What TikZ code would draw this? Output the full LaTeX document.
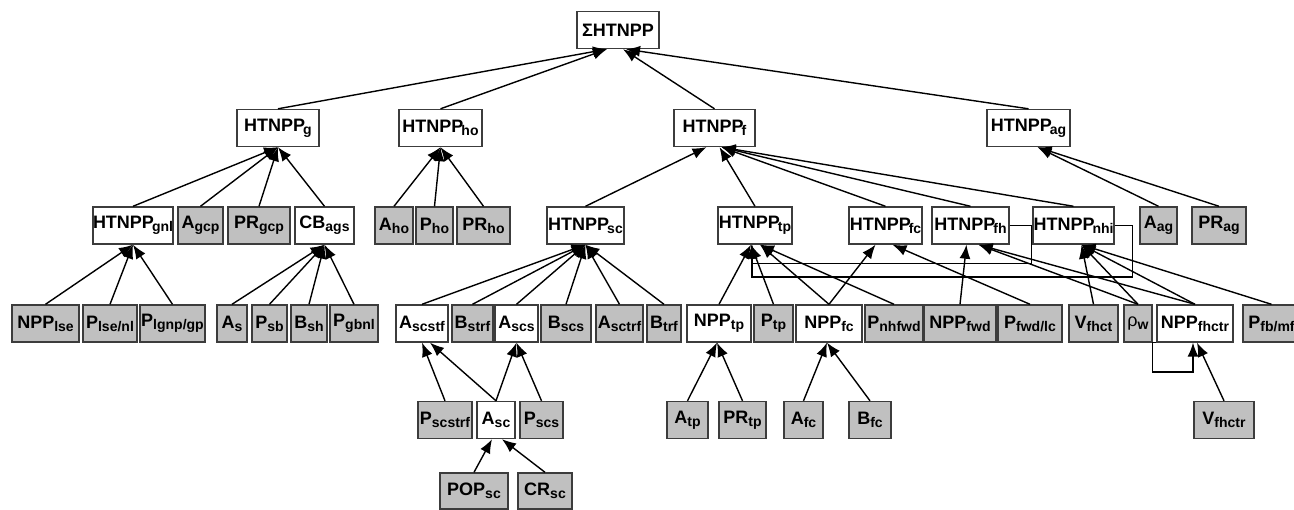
\documentclass[tikz,border=0pt]{standalone}
\usepackage{fontspec}
\setmainfont{Liberation Sans}
\usetikzlibrary{arrows.meta}
\definecolor{boxgray}{RGB}{192,192,192}
\definecolor{boxline}{RGB}{60,60,60}
\newcommand{\sbs}[1]{\raisebox{-3pt}{\fontsize{14}{14}\selectfont #1}}
\newcommand{\hsb}[1]{\kern-2pt\sbs{#1}}
\tikzset{
 box/.style={draw=boxline, line width=1.4pt, inner sep=0pt, minimum height=37pt, font=\fontsize{18}{19}\selectfont\bfseries, text=black},
 wbox/.style={box, fill=white},
 gbox/.style={box, fill=boxgray},
 bw/.style={minimum width=#1pt},
 arr/.style={-{Latex[length=14pt,width=11pt]}, line width=1.4pt, draw=black},
}
\begin{document}
\begin{tikzpicture}[x=1pt,y=-1pt]
\useasboundingbox (0,0) rectangle (1294,510);
\clip (0,0) rectangle (1294,510);
\fill[white] (0,0) rectangle (1294,510);
% top
\node[wbox,bw=82] (S) at (618,30) {ΣHTNPP};
% level 1
\node[wbox,bw=82] (g) at (278,128) {HTNPP\hsb{g}};
\node[wbox,bw=83] (ho) at (440.5,128) {HTNPP\hsb{ho}};
\node[wbox,bw=81] (f) at (714.5,128) {HTNPP\hsb{f}};
\node[wbox,bw=83] (ag) at (1028.5,128) {HTNPP\hsb{ag}};
% level 2
\node[wbox,bw=80] (gnl) at (133,225.5) {HTNPP\hsb{gnl}};
\node[gbox,bw=45] (Agcp) at (200.5,225.5) {A\sbs{gcp}};
\node[gbox,bw=62] (PRgcp) at (259,225.5) {PR\sbs{gcp}};
\node[wbox,bw=59] (CBags) at (324.5,225.5) {CB\sbs{ags}};
\node[gbox,bw=38] (Aho) at (394,225.5) {A\sbs{ho}};
\node[gbox,bw=37] (Pho) at (434.5,225.5) {P\sbs{ho}};
\node[gbox,bw=53] (PRho) at (483.5,225.5) {PR\sbs{ho}};
\node[wbox,bw=77] (sc) at (585.5,225.5) {HTNPP\hsb{sc}};
\node[wbox,bw=74] (tp) at (755,225.5) {HTNPP\hsb{tp}};
\node[wbox,bw=73] (fc) at (885.5,225.5) {HTNPP\hsb{fc}};
\node[wbox,bw=77] (fh) at (970.5,225.5) {HTNPP\hsb{fh}};
\node[wbox,bw=81] (nhi) at (1073.5,225.5) {HTNPP\hsb{nhi}};
\node[gbox,bw=37] (Aag) at (1158.5,225.5) {A\sbs{ag}};
\node[gbox,bw=54] (PRag) at (1219,225.5) {PR\sbs{ag}};
% level 3
\node[gbox,bw=67] (NPPlse) at (45.5,323.5) {NPP\sbs{lse}};
\node[gbox,bw=54] (Plsenl) at (110,323.5) {P\sbs{lse/nl}};
\node[gbox,bw=65] (Plgnp) at (172.5,323.5) {P\sbs{lgnp/gp}};
\node[gbox,bw=30] (As) at (232,323.5) {A\sbs{s}};
\node[gbox,bw=35] (Psb) at (269.5,323.5) {P\sbs{sb}};
\node[gbox,bw=36] (Bsh) at (309,323.5) {B\sbs{sh}};
\node[gbox,bw=48] (Pgbnl) at (354,323.5) {P\sbs{gbnl}};
\node[wbox,bw=52] (Ascstf) at (422,323.5) {A\sbs{scstf}};
\node[gbox,bw=41] (Bstrf) at (472.5,323.5) {B\sbs{strf}};
\node[wbox,bw=43] (Ascs) at (516.5,323.5) {A\sbs{scs}};
\node[gbox,bw=50] (Bscs) at (566,323.5) {B\sbs{scs}};
\node[gbox,bw=47] (Asctrf) at (619.5,323.5) {A\sbs{sctrf}};
\node[gbox,bw=34] (Btrf) at (664,323.5) {B\sbs{trf}};
\node[wbox,bw=64] (NPPtp) at (719,323.5) {NPP\sbs{tp}};
\node[gbox,bw=39] (Ptp) at (773.5,323.5) {P\sbs{tp}};
\node[wbox,bw=66] (NPPfc) at (829,323.5) {NPP\sbs{fc}};
\node[gbox,bw=58] (Pnhfwd) at (894,323.5) {P\sbs{nhfwd}};
\node[gbox,bw=72] (NPPfwd) at (960,323.5) {NPP\sbs{fwd}};
\node[gbox,bw=64] (Pfwdlc) at (1030,323.5) {P\sbs{fwd/lc}};
\node[gbox,bw=49] (Vfhct) at (1093.5,323.5) {V\sbs{fhct}};
\node[gbox,bw=28] (rhow) at (1138,323.5) {{\mdseries ρ}\sbs{w}};
\node[wbox,bw=76] (NPPfhctr) at (1195,323.5) {NPP\sbs{fhctr}};
\node[gbox,bw=57] (Pfbmf) at (1271.5,323.5) {P\sbs{fb/mf}};
% level 4
\node[gbox,bw=54] (Pscstrf) at (445,420) {P\sbs{scstrf}};
\node[wbox,bw=38] (Asc) at (496,420) {A\sbs{sc}};
\node[gbox,bw=43] (Pscs) at (541.5,420) {P\sbs{scs}};
\node[gbox,bw=41] (Atp) at (687.5,420) {A\sbs{tp}};
\node[gbox,bw=47] (PRtp) at (742.5,420) {PR\sbs{tp}};
\node[gbox,bw=39] (Afc) at (803.5,420) {A\sbs{fc}};
\node[gbox,bw=42] (Bfc) at (870,420) {B\sbs{fc}};
\node[gbox,bw=60] (Vfhctr) at (1224,420) {V\sbs{fhctr}};
% level 5
\node[gbox,bw=68,minimum height=36pt] (POPsc) at (474,491) {POP\sbs{sc}};
\node[gbox,bw=54,minimum height=36pt] (CRsc) at (545,491) {CR\sbs{sc}};
% edges to top
\draw[arr] (g.north) -- ([xshift=-11pt]S.south);
\draw[arr] (ho.north) -- ([xshift=-11pt]S.south);
\draw[arr] (f.north) -- ([xshift=5pt]S.south);
\draw[arr] (ag.north) -- ([xshift=8pt]S.south);
% to level 1
\foreach \c in {gnl,Agcp,PRgcp,CBags} \draw[arr] (\c.north) -- (g.south);
\foreach \c in {Aho,Pho,PRho} \draw[arr] (\c.north) -- (ho.south);
\draw[arr] (sc.north) -- ([xshift=-8pt]f.south);
\draw[arr] (tp.north) -- ([xshift=5pt]f.south);
\foreach \c in {fc,fh,nhi} \draw[arr] (\c.north) -- ([xshift=7pt]f.south);
\foreach \c in {Aag,PRag} \draw[arr] (\c.north) -- ([xshift=9pt]ag.south);
% to level 2
\foreach \c in {NPPlse,Plsenl,Plgnp} \draw[arr] (\c.north) -- (gnl.south);
\foreach \c in {As,Psb,Bsh,Pgbnl} \draw[arr] (\c.north) -- (CBags.south);
\foreach \c in {Ascstf,Bstrf,Ascs,Bscs,Asctrf,Btrf} \draw[arr] (\c.north) -- (sc.south);
\foreach \c in {NPPtp,Ptp} \draw[arr] (\c.north) -- ([xshift=-4pt]tp.south);
\foreach \c in {NPPfc,Pnhfwd} \draw[arr] (\c.north) -- ([xshift=5pt]tp.south);
\draw[arr] (NPPfc.north) -- ([xshift=-10pt]fc.south);
\draw[arr] (Pfwdlc.north) -- ([xshift=7pt]fc.south);
\draw[arr] (NPPfwd.north) -- ([xshift=-4pt]fh.south);
\foreach \c in {rhow,NPPfhctr} \draw[arr] (\c.north) -- ([xshift=8pt]fh.south);
\foreach \c in {Vfhct,rhow,NPPfhctr,Pfbmf} \draw[arr] (\c.north) -- ([xshift=8pt]nhi.south);
\draw[arr] (fh.east) -- ++(22,0) -- ++(0,38) -| ([xshift=-3pt]tp.south);
\draw[arr] (nhi.east) -- ++(18,0) -- ++(0,51.5) -| ([xshift=-3pt]tp.south);
% to level 3
\draw[arr] (Pscstrf.north) -- (Ascstf.south);
\draw[arr] (Asc.north) -- ([xshift=8pt]Ascstf.south);
\foreach \c in {Asc,Pscs} \draw[arr] (\c.north) -- (Ascs.south);
\foreach \c in {Atp,PRtp} \draw[arr] (\c.north) -- ([xshift=-2pt]NPPtp.south);
\foreach \c in {Afc,Bfc} \draw[arr] (\c.north) -- ([xshift=-2pt]NPPfc.south);
\draw[arr] (Vfhctr.north) -- ([xshift=2pt]NPPfhctr.south);
\draw[arr] (NPPfhctr.south west) -- ++(-4,0) -- ++(0,29.5) -| ([xshift=-2pt]NPPfhctr.south);
% to level 4
\draw[arr] (POPsc.north) -- ([xshift=-4pt]Asc.south);
\draw[arr] (CRsc.north) -- ([xshift=6pt]Asc.south);
\end{tikzpicture}
\end{document}
